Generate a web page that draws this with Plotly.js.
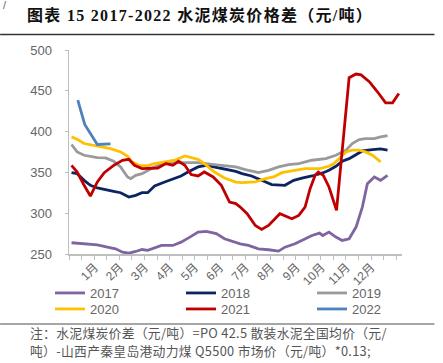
<!DOCTYPE html>
<html>
<head>
<meta charset="utf-8">
<script src="https://cdn.plot.ly/plotly-3.0.1.min.js"></script>
<style>html,body{margin:0;padding:0;background:#fff;}#chart{width:443px;height:363px;}
.gtitle{letter-spacing:1.3px;}
.annotation-text{letter-spacing:0.3px;}</style>
</head>
<body>
<div id="chart"></div>
<script>
// x positions are in weeks of the year
var wk2017 = [0.4,2.4,4.5,6.1,7.4,8.5,9.5,10.6,11.6,12.5,13.6,14.7,16.5,17.8,19.2,20.5,21.8,23.4,24.7,25.9,27.2,28.5,30.1,31.7,33.3,34.3,35.9,37.3,38.6,39.8,40.3,41.3,42.4,43.4,44.5,45.6,46.6,47.4,48.5,49.5,50.6];
var v2017  = [263.8,262.5,261.3,258.4,256.4,252.2,251,253.1,255.5,254.5,257.2,260.5,260.5,264.5,270.7,276.9,277.8,274.9,268.7,265.5,262.5,260.5,256.4,255.2,253.5,258.4,262.5,267.8,272.7,275.6,272.7,276.9,270.7,266.6,268.7,283,307.5,336.2,344.4,340.3,346.4];

var wk2018 = [0.4,1.3,2.4,3.4,4.5,5.8,7.1,8.2,9.5,10.6,11.6,12.5,13.6,15.2,16.8,17.8,18.9,20.5,21.8,23.1,24.7,26.5,27.5,29.0,30.6,32.2,34.3,35.7,37.0,38.6,40.3,41.3,42.4,43.4,44.5,45.6,46.6,48.2,49.5,50.6];
var v2018  = [349.7,348.5,340.3,334.2,330.9,329.2,326.8,325.1,319.8,321.9,325.1,325.1,333.3,338.3,342.4,345.6,350.5,356.7,358.7,356.7,354.7,351.3,348.5,345.6,340.3,335,334.2,340.3,343.1,345.6,349.3,352.6,357.5,363.6,366.9,372.2,376.3,378,378.8,377.2];

var wk2019 = [0.4,1.3,2.4,4.5,5.8,7.1,8.2,9.3,9.8,10.6,11.6,13.1,15.2,17.8,20.5,23.1,26.5,28.0,30.1,31.7,33.3,34.9,36.5,38.6,40.8,42.4,44.0,45.0,46.1,47.1,48.5,49.5,50.6];
var v2019  = [384.2,375.1,371,368.2,367.7,363.6,356.7,344.4,342.4,346.4,348.5,354.7,362,362,362,359.6,356.7,353.4,349.7,352.6,356.7,359.6,360.8,364.9,367,371,377.2,385.4,390.3,391.5,391.5,393.5,395.2];

var wk2020 = [0.4,1.3,2.4,4.5,6.6,8.2,9.3,10.0,11.1,12.4,13.6,15.2,16.8,18.4,20.5,21.5,23.1,24.7,26.5,27.5,29.6,31.2,32.5,33.8,35.7,37.5,39.8,41.3,42.1,42.9,44.0,45.0,46.1,47.1,48.2,49.5];
var v2020  = [393.5,390.7,385.4,382.4,379.2,375.1,369.8,363,358.7,357.9,360.8,362.8,364.9,370.2,366,360.8,350.5,343.1,338.2,337.5,338.3,342.4,344.4,349.7,352.6,354.7,354.7,357.5,360.8,366.9,375.1,377.2,377.2,375.1,371,363];

var wk2021 = [0.4,1.3,2.4,3.4,4.5,5.6,7.1,8.5,9.5,10.4,11.6,13.1,14.1,15.4,16.5,17.4,18.4,19.4,20.5,21.5,22.9,24.2,25.5,26.5,27.2,28.3,29.6,30.6,31.7,33.5,35.4,36.5,37.5,38.3,39.1,39.6,40.4,41.3,42.5,44.5,45.6,46.4,47.7,49.0,50.3,51.4,52.4];
var v2021  = [358.7,350.5,334.2,321,338.3,349.7,358.7,364.9,366,358.7,354.7,354.7,355.4,360.8,358.7,363.6,358.7,347.3,345.6,350.5,344.4,334.2,313.6,311.7,307.5,299.4,285,280.1,285,299.4,293.3,297.3,307.5,330,346.4,350.5,346.4,332.1,303.4,466,470.5,469.5,461.1,448.8,435.3,435.3,446.8];

var wk2022 = [1.4,2.5,3.4,4.5,6.6];
var v2022  = [438.6,408.7,397.7,384.2,384.9];

var seriesNames = ['2017','2018','2019','2020','2021','2022'];
var seriesColors = ['#8064a2','#0c2461','#9a9a9a','#ffc000','#c00000','#4f81bd'];
var seriesX = [wk2017,wk2018,wk2019,wk2020,wk2021,wk2022];
var seriesY = [v2017,v2018,v2019,v2020,v2021,v2022];

var monthLabels = ['1月','2月','3月','4月','5月','6月','7月','8月','9月','10月','11月','12月'];
var monthPos = [4.1,8.07,12.05,16.02,19.99,23.97,28.03,32.07,36.13,40.10,44.07,48.03];

var yTicks = [250,300,350,400,450,500];

var titleText = '图表 15 2017-2022 水泥煤炭价格差（元/吨）';
var note1 = '注：水泥煤炭价差（元/吨）=PO 42.5 散装水泥全国均价（元/';
var note2 = '吨）-山西产秦皇岛港动力煤 Q5500 市场价（元/吨）*0.13;';

var traces = seriesNames.map(function(n,i){
  return {type:'scatter', mode:'lines', name:n, x:seriesX[i], y:seriesY[i],
    legend: i < 3 ? 'legend' : 'legend2',
    line:{color:seriesColors[i], width:2.8}, hoverinfo:'skip'};
});

var L=69, R=402.5, T=50, B=254;
var W=R-L, H=B-T;
function px(x){return (x-L)/W;}
function py(y){return (B-y)/H;}

var legendBase = {orientation:'h', xanchor:'left', yanchor:'middle',
    font:{size:13, color:'#666'}, entrywidth:86, itemwidth:30, bgcolor:'rgba(0,0,0,0)', traceorder:'normal'};

var layout = {
  width:443, height:363,
  margin:{l:L, r:443-R, t:T, b:363-B, pad:0},
  paper_bgcolor:'#fff', plot_bgcolor:'#fff',
  font:{family:'Liberation Sans, Arial, "Noto Sans CJK SC", sans-serif', color:'#666'},
  title:{text:titleText, xref:'container', yref:'container', x:27/443, xanchor:'left', y:1-15/363, yanchor:'middle',
    font:{family:'"Liberation Serif", "Noto Sans CJK SC", serif', size:16, color:'#111', weight:'bold'}},
  showlegend:true,
  legend:Object.assign({}, legendBase, {x:px(66), y:py(293)}),
  legend2:Object.assign({}, legendBase, {x:px(66), y:py(309)}),
  xaxis:{range:[0,52.9], showgrid:false, zeroline:false, showline:true, linecolor:'#bfbfbf', linewidth:1.5,
    tickmode:'array', tickvals:monthPos, ticktext:monthLabels, ticks:'', tickangle:-45,
    tickfont:{size:12, color:'#666'},
    minor:{tickmode:'linear', tick0:0, dtick:2, ticks:'outside', ticklen:4, tickcolor:'#bfbfbf', tickwidth:1, showgrid:false}},
  yaxis:{range:[250,500], tickvals:yTicks, showgrid:false, zeroline:false, showline:true, linecolor:'#bfbfbf', linewidth:1.5,
    ticks:'outside', ticklen:3, tickcolor:'#bfbfbf', tickfont:{size:13, color:'#666'}, ticklabelstandoff:10},
  shapes:[
    {type:'line', xref:'paper', yref:'paper', x0:px(0), x1:px(435), y0:py(34.5), y1:py(34.5), line:{color:'#333', width:1.5}},
    {type:'line', xref:'paper', yref:'paper', x0:px(0), x1:px(435), y0:py(324), y1:py(324), line:{color:'#888', width:1.5}}
  ],
  annotations:[
    {text:note1, xref:'paper', yref:'paper', x:px(28), xanchor:'left', y:py(332.5), yanchor:'middle', showarrow:false,
      font:{family:'"Noto Sans CJK SC", sans-serif', size:12.8, color:'#555'}},
    {text:note2, xref:'paper', yref:'paper', x:px(28), xanchor:'left', y:py(350.5), yanchor:'middle', showarrow:false,
      font:{family:'"Noto Sans CJK SC", sans-serif', size:12.8, color:'#555'}},
    {text:'/', xref:'paper', yref:'paper', x:px(5), xanchor:'center', y:py(5), yanchor:'middle', showarrow:false,
      font:{size:11, color:'#666'}}
  ]
};

Plotly.newPlot('chart', traces, layout, {staticPlot:true, displayModeBar:false});
</script>
</body>
</html>
